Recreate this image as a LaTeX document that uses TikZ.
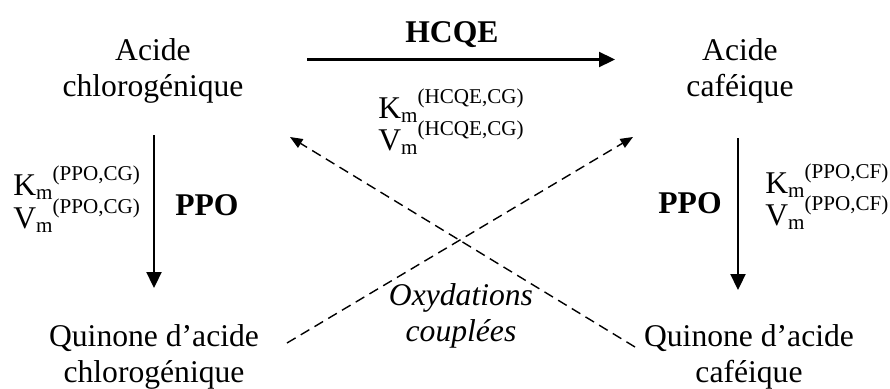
\documentclass[tikz,border=0pt]{standalone}
\usepackage{fontspec}
\setmainfont{Liberation Serif}
\usepackage{tikz}
\usetikzlibrary{positioning,arrows.meta}
\newcommand{\kcst}[2]{#1\raisebox{-0.14em}{\fontsize{12}{12}\selectfont m}\raisebox{0.45em}{\fontsize{12}{12}\selectfont(#2)}}

\begin{document}
\begin{tikzpicture}[
  x=0.02cm,y=-0.02cm,
  cpd/.style={align=center,inner sep=0pt,font=\fontsize{18}{20.5}\selectfont},
  kin/.style={anchor=base west,inner sep=0pt,font=\fontsize{18}{20.5}\selectfont},
  enz/.style={anchor=base west,inner sep=0pt,font=\fontsize{18}{20.5}\selectfont\bfseries},
  arr/.style={-{Triangle[length=0.32cm,width=0.3cm]},line width=1.3pt},
  coup/.style={-{Triangle[length=0.25cm,width=0.2cm]},line width=0.8pt,
               dash pattern=on 0.2cm off 0.12cm}
]
\useasboundingbox (0,0) rectangle (890,389);

% Compounds
\node[cpd] (cg) at (153,71) {Acide\\chlorogénique};
\node[cpd] (cf) at (740,71) {Acide\\caféique};
\node[cpd] (qcg) at (154,357) {Quinone d’acide\\chlorogénique};
\node[cpd] (qcf) at (749,357) {Quinone d’acide\\caféique};

% Enzymes
\node[enz] (hcqe) at (405,42) {HCQE};
\node[enz] (ppog) at (175,215) {PPO};
\node[enz] (ppod) at (658,213) {PPO};

% Kinetic constants
\node[kin] (kh) at (378,118) {\kcst{K}{HCQE,CG}};
\node[kin] (vh) at (378,150) {\kcst{V}{HCQE,CG}};
\node[kin] (kcg) at (13,195) {\kcst{K}{PPO,CG}};
\node[kin] (vcg) at (13,228) {\kcst{V}{PPO,CG}};
\node[kin] (kcf) at (765,193) {\kcst{K}{PPO,CF}};
\node[kin] (vcf) at (765,225) {\kcst{V}{PPO,CF}};

\node[cpd,font=\fontsize{18}{20.5}\selectfont\itshape] (ox) at (461,316) {Oxydations\\couplées};

% Reactions
\draw[arr] ([shift={(154,-11.5)}]cg.center) -- ([shift={(-125,-11.5)}]cf.center);
\draw[arr] ([shift={(1,64)}]cg.center) -- ([shift={(0,-69)}]qcg.center);
\draw[arr] ([shift={(-2,67)}]cf.center) -- ([shift={(-11,-67)}]qcf.center);

% Coupled oxidations
\draw[coup] ([shift={(-114,-10)}]qcf.center) -- ([shift={(137,66)}]cg.center);
\draw[coup] ([shift={(133,-14)}]qcg.center) -- ([shift={(-107,66)}]cf.center);
\end{tikzpicture}
\end{document}
